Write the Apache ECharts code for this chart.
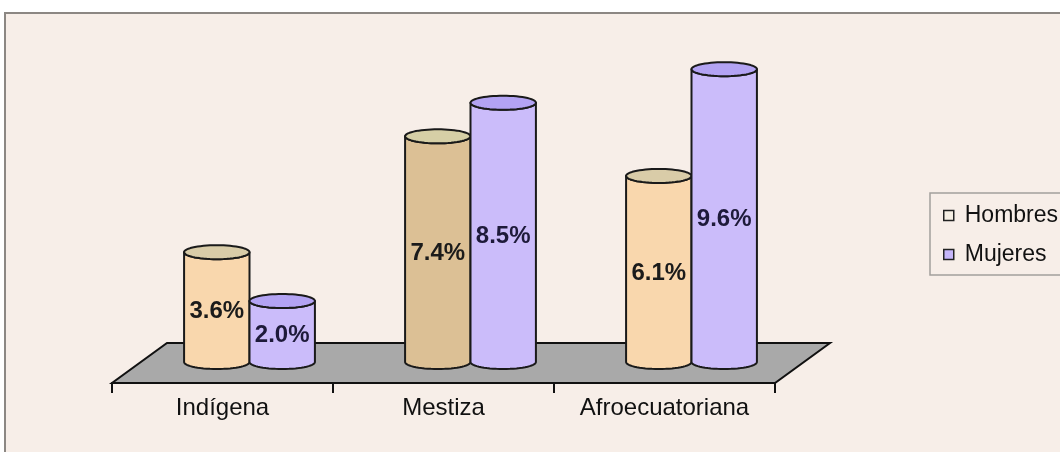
<!DOCTYPE html>
<html>
<head>
<meta charset="utf-8">
<script src="https://cdn.jsdelivr.net/npm/echarts@6/dist/echarts.min.js"></script>
<style>
  html,body{margin:0;padding:0;background:#fff;}
  #chart{width:1060px;height:452px;}
</style>
</head>
<body>
<div id="chart"></div>
<script>
const categories = ["Indígena", "Mestiza", "Afroecuatoriana"];
const hombres = [3.6, 7.4, 6.1];
const mujeres = [2.0, 8.5, 9.6];

// colours (the Mestiza men's bar is a darker tan in the original)
const hombresBody = ["#f9d7ad", "#dcc095", "#f9d7ad"];
const hombresTop = ["#d9cca8", "#d6cfa6", "#d9cca8"];
const mujeresBody = ["#cbbcfa", "#cbbcfa", "#cbbcfa"];
const mujeresTop = ["#b3a3f3", "#b3a3f3", "#b3a3f3"];

const DX = 27, DY = -21;      // bars sit half way into the floor
const DEPTH_X = 55, DEPTH_Y = -40;
const RY = 7;
const FONT = "'Liberation Sans', Arial, sans-serif";

let chart = echarts.init(document.getElementById("chart"));

function ellipsePts(cx, cy, rx, ry, a0, a1, n) {
  let pts = [];
  for (let i = 0; i <= n; i++) {
    let a = a0 + (a1 - a0) * i / n;
    pts.push([cx + rx * Math.cos(a), cy + ry * Math.sin(a)]);
  }
  return pts;
}

function cylinder(side, bodyCols, topCols) {
  return function (params, api) {
    let i = api.value(0), v = api.value(1);
    let base = api.coord([i, 0]);
    let top = api.coord([i, v]);
    let band = api.size([1, 0])[0];
    let rx = band * 0.148;
    let cx = base[0] + DX + side * rx;
    let by = base[1] + DY, ty = top[1] + DY;
    let l = cx - rx, r = cx + rx;

    let body = [[l, ty], [l, by]]
      .concat(ellipsePts(cx, by, rx, RY, Math.PI, 0, 30))
      .concat([[r, ty]])
      .concat(ellipsePts(cx, ty, rx, RY, 0, Math.PI, 30));
    let cap = ellipsePts(cx, ty, rx, RY, 0, Math.PI * 2, 60);

    return {
      type: "group",
      children: [
        { type: "polygon", shape: { points: body },
          style: { fill: bodyCols[i], stroke: "#1a1a1a", lineWidth: 2, lineJoin: "round" } },
        { type: "polygon", shape: { points: cap },
          style: { fill: topCols[i], stroke: "#1a1a1a", lineWidth: 2, lineJoin: "round" } },
        { type: "text", x: cx, y: (ty + by) / 2 + 4,
          style: { text: v.toFixed(1) + "%", align: "center", verticalAlign: "middle",
                   font: "bold 24px " + FONT,
                   fill: side < 0 ? "#1b1b1b" : "#1e1a3a" } }
      ]
    };
  };
}

chart.setOption({
  animation: false,
  backgroundColor: "#ffffff",
  graphic: [
    { type: "rect", z: -10, silent: true,
      shape: { x: 5, y: 13, width: 1060, height: 445 },
      style: { fill: "#f7eee8", stroke: "#8c8783", lineWidth: 2 } }
  ],
  grid: { left: 112, right: 285, top: 78, bottom: 69 },
  xAxis: {
    type: "category",
    data: categories,
    axisLine: { show: true, lineStyle: { color: "#111", width: 2 } },
    axisTick: { show: true, length: 10, interval: 0, lineStyle: { color: "#111", width: 2 } },
    axisLabel: { margin: 13, fontSize: 24, color: "#111", fontFamily: FONT },
    z: 5
  },
  yAxis: {
    type: "value", min: 0, max: 10, show: false,
    splitLine: { show: false }
  },
  legend: {
    orient: "vertical",
    left: 930, top: 193,
    padding: [11, 40, 9, 13],
    itemGap: 16,
    itemWidth: 10, itemHeight: 10,
    borderColor: "#a3a09c", borderWidth: 1.5,
    textStyle: { fontSize: 23, color: "#111", fontFamily: FONT, padding: [0, 0, 0, 6] },
    data: [
      { name: "Hombres", icon: "rect",
        itemStyle: { color: "#f6efe4", borderColor: "#222", borderWidth: 1.5 } },
      { name: "Mujeres", icon: "rect",
        itemStyle: { color: "#c6b6fa", borderColor: "#222", borderWidth: 1.5 } }
    ]
  },
  series: [
    {
      type: "custom", name: "floor", silent: true, z: 0,
      data: [[0, 0]],
      renderItem: function (params, api) {
        let c = params.coordSys;
        let fy = c.y + c.height;
        return {
          type: "polygon",
          shape: { points: [[c.x, fy], [c.x + c.width, fy],
                            [c.x + c.width + DEPTH_X, fy + DEPTH_Y],
                            [c.x + DEPTH_X, fy + DEPTH_Y]] },
          style: { fill: "#a9a9a9", stroke: "#111", lineWidth: 2 }
        };
      }
    },
    {
      type: "custom", name: "Hombres", z: 2,
      itemStyle: { color: "#f6efe4" },
      data: hombres.map((v, i) => [i, v]),
      renderItem: cylinder(-1, hombresBody, hombresTop)
    },
    {
      type: "custom", name: "Mujeres", z: 3,
      itemStyle: { color: "#c6b6fa" },
      data: mujeres.map((v, i) => [i, v]),
      renderItem: cylinder(1, mujeresBody, mujeresTop)
    }
  ]
});
</script>
</body>
</html>
